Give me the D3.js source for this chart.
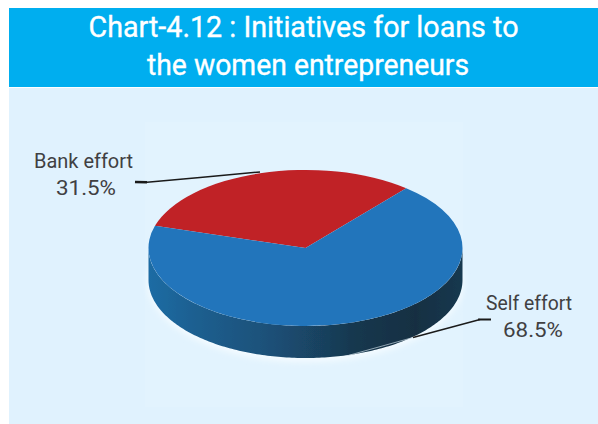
<!DOCTYPE html>
<html><head><meta charset="utf-8">
<script src="https://cdnjs.cloudflare.com/ajax/libs/d3/7.8.5/d3.min.js"></script>
<style>html,body{margin:0;padding:0;background:#fff}svg{display:block}</style></head>
<body><svg id="c" width="598" height="424"></svg>
<script>
const titleLines = ["Chart-4.12 : Initiatives for loans to", "the women entrepreneurs"];
const categories = ["Bank effort", "Self effort"];
const values = [31.5, 68.5];
const valueLabels = ["31.5%", "68.5%"];
const colors = ["#c02027", "#2375bb"];

const svg = d3.select("#c");
const cx = 305.5, cy = 248, rx = 157, ry = 78, depth = 32;
const toRad = d => d * Math.PI / 180;
const textFont = "Roboto,'Liberation Sans',sans-serif";

svg.append("rect").attr("x", 9).attr("y", 88).attr("width", 589).attr("height", 336).attr("fill", "#e0f2fe");
svg.append("rect").attr("x", 145).attr("y", 122).attr("width", 318).attr("height", 285).attr("fill", "#e2f3fe");
svg.append("rect").attr("x", 9).attr("y", 8).attr("width", 589).attr("height", 79).attr("fill", "#00aeef");

const titleLayout = [[88.5, 37, 430], [147, 75, 322]];
svg.selectAll("text.t").data(titleLines).join("text").attr("class", "t")
  .attr("x", (d, i) => titleLayout[i][0]).attr("y", (d, i) => titleLayout[i][1])
  .attr("textLength", (d, i) => titleLayout[i][2]).attr("lengthAdjust", "spacingAndGlyphs")
  .attr("fill", "#fff").attr("stroke", "#fff").attr("stroke-width", 0.35)
  .attr("font-family", textFont).attr("font-weight", 400)
  .attr("font-size", 29).text(d => d);

const defs = svg.append("defs");
const g = defs.append("linearGradient").attr("id", "side").attr("x1", 0).attr("x2", 1).attr("y1", 0).attr("y2", 0);
[[0, "#1f6ca4"], [0.15, "#1c5f90"], [0.4, "#1b4f76"], [0.65, "#18384f"], [0.85, "#132f42"], [1, "#14384f"]]
  .forEach(s => g.append("stop").attr("offset", s[0]).attr("stop-color", s[1]));
defs.append("filter").attr("id", "soft").attr("x", "-5%").attr("y", "-5%").attr("width", "110%").attr("height", "110%")
  .append("feGaussianBlur").attr("stdDeviation", 0.7);
defs.append("filter").attr("id", "halo").attr("x", "-10%").attr("y", "-10%").attr("width", "120%").attr("height", "120%")
  .append("feGaussianBlur").attr("stdDeviation", 3);

const pie = d3.pie().sort(null).value(d => d).startAngle(toRad(-73.5)).endAngle(toRad(286.5));
const arcs = pie(values);
const arc = d3.arc().innerRadius(0).outerRadius(rx);

// Pale glow under the pie
svg.append("ellipse").attr("cx", cx).attr("cy", cy + depth + 2).attr("rx", rx + 1).attr("ry", ry + 2)
  .attr("fill", "#f4fbff").attr("filter", "url(#halo)");

const pieG = svg.append("g").attr("filter", "url(#soft)");
// Side wall: lower half of the ellipse, extruded downward
const wallAngles = d3.range(90, 270.5, 1).map(toRad);
const pt = (a, dy) => [cx + rx * Math.sin(a), cy - ry * Math.cos(a) + dy];
const wall = wallAngles.map(a => pt(a, 0)).concat(wallAngles.slice().reverse().map(a => pt(a, depth)));
pieG.append("path").attr("d", d3.line()(wall) + "Z").attr("fill", "url(#side)");

// Top face
const face = pieG.append("g").attr("transform", `translate(${cx},${cy}) scale(1,${ry / rx})`);
face.selectAll("path").data(arcs).join("path").attr("d", arc).attr("fill", (d, i) => colors[i]);

// Leader lines
const leader = d3.line();
const strokes = [
  [[[135, 182], [147, 182.3]], "#1a1a1a", 2.6],
  [[[147, 182.3], [200, 177.5], [260, 172]], "#1a1a1a", 1.5],
  [[[348, 355.5], [413, 337.5]], "#c5d6e0", 0.7],
  [[[413, 337.5], [480, 319.5]], "#1a1a1a", 1.5],
  [[[478, 319.5], [491, 319.5]], "#1a1a1a", 2]
];
strokes.forEach(s => svg.append("path").attr("d", leader(s[0]))
  .attr("fill", "none").attr("stroke", s[1]).attr("stroke-width", s[2]));

// Labels
const labelLayout = [[[34, 168, 99], [56, 195, 60]], [[486, 310, 86], [503, 337, 60]]];
categories.forEach((c, i) => {
  [c, valueLabels[i]].forEach((s, j) => {
    const p = labelLayout[i][j];
    svg.append("text").attr("x", p[0]).attr("y", p[1])
      .attr("textLength", p[2]).attr("lengthAdjust", "spacingAndGlyphs")
      .attr("fill", "#404042").attr("font-family", textFont).attr("font-weight", 400)
      .attr("font-size", 21).text(s);
  });
});
</script></body></html>
